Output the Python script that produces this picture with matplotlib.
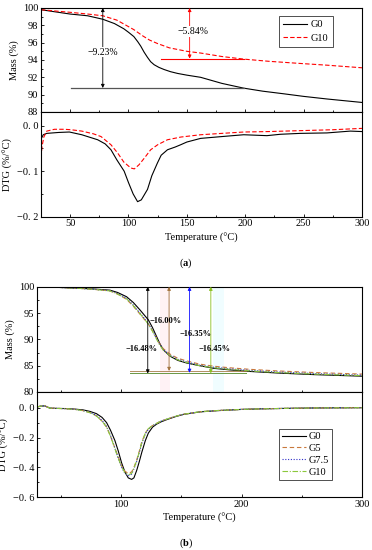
import matplotlib
matplotlib.use("Agg")
import matplotlib.pyplot as plt
from matplotlib.ticker import MultipleLocator, FixedLocator, FixedFormatter

plt.rcParams['font.family'] = ['Liberation Serif', 'DejaVu Serif']
plt.rcParams['mathtext.fontset'] = 'custom'
plt.rcParams['mathtext.rm'] = 'Liberation Serif'
plt.rcParams['mathtext.bf'] = 'Liberation Serif:bold'
plt.rcParams['font.size'] = 7.5

# ---------------- Panel (a) data ----------------
a_g0_mass_T = [25, 40, 50, 65, 78, 88, 96, 100, 104.6, 108, 110.5, 113.4, 116.3, 119, 122, 126, 130.5, 136, 142, 150, 161.8, 180, 198.7, 215, 232.9, 250, 270, 300]
a_g0_mass = [99.8, 99.5, 99.3, 99.1, 98.7, 98.2, 97.6, 97.2, 96.7, 96.1, 95.6, 94.9, 94.3, 93.8, 93.45, 93.15, 92.9, 92.65, 92.45, 92.25, 92.0, 91.3, 90.75, 90.4, 90.1, 89.8, 89.5, 89.1]
a_g10_mass_T = [25, 50, 65, 78, 90, 98, 104.6, 112, 118, 124.8, 135, 150, 161.8, 180, 198.7, 220, 247, 270, 300]
a_g10_mass = [99.8, 99.5, 99.3, 99.1, 98.6, 98.0, 97.5, 96.8, 96.3, 95.9, 95.4, 95.0, 94.8, 94.4, 94.1, 93.85, 93.6, 93.4, 93.1]

a_g0_dtg_T = [25, 27, 30, 40, 49.4, 60, 73.6, 80, 85, 90, 96.3, 100, 104, 107.8, 111, 116.3, 120, 124.8, 128, 133.4, 140, 144.7, 150, 161.8, 180, 198.7, 218.6, 230, 247, 270, 290, 300]
a_g0_dtg = [-0.03, -0.02, -0.017, -0.015, -0.014, -0.02, -0.031, -0.04, -0.053, -0.075, -0.1, -0.125, -0.15, -0.167, -0.163, -0.14, -0.11, -0.082, -0.065, -0.053, -0.047, -0.042, -0.036, -0.028, -0.024, -0.02, -0.022, -0.019, -0.017, -0.016, -0.012, -0.013]
a_g10_dtg_T = [25, 26, 27.5, 30, 36.6, 45, 50.9, 60, 70, 76.5, 85, 90.7, 96, 102, 105, 109, 114, 119, 125, 133.4, 145, 161.8, 180, 198.7, 220, 247, 275, 300]
a_g10_dtg = [-0.07, -0.045, -0.025, -0.012, -0.008, -0.008, -0.009, -0.012, -0.018, -0.024, -0.042, -0.06, -0.08, -0.093, -0.095, -0.086, -0.07, -0.053, -0.042, -0.031, -0.025, -0.02, -0.017, -0.014, -0.013, -0.011, -0.009, -0.006]

a_loss_g0 = 9.23
a_loss_g10 = 5.84

# ---------------- Panel (b) data ----------------
b_mass_T = [30, 45, 60, 75, 90.6, 97, 104.4, 110, 115.5, 122.5, 126, 129.4, 132, 135, 140.5, 147, 154.4, 165, 176.7, 190, 207, 230, 260, 300]
b_g0_mass = [100, 99.9, 99.75, 99.6, 99.35, 98.9, 98.1, 97.0, 95.6, 93.7, 92.2, 90.5, 89.2, 88.0, 86.8, 86.0, 85.5, 85.0, 84.5, 84.2, 83.9, 83.6, 83.3, 83.0]
b_g5_mass = [100, 99.9, 99.75, 99.55, 99.2, 98.6, 97.6, 96.3, 94.8, 92.9, 91.6, 90.2, 89.1, 88.2, 87.2, 86.4, 85.9, 85.3, 84.9, 84.6, 84.3, 84.0, 83.7, 83.4]
b_g75_mass = [100, 99.9, 99.75, 99.55, 99.25, 98.7, 97.8, 96.5, 95.0, 93.0, 91.6, 90.1, 89.0, 88.0, 87.0, 86.2, 85.7, 85.1, 84.7, 84.4, 84.1, 83.8, 83.5, 83.2]
b_g10_mass = [100, 99.9, 99.75, 99.55, 99.2, 98.6, 97.7, 96.4, 94.9, 92.9, 91.5, 90.0, 88.9, 87.9, 86.9, 86.1, 85.6, 85.0, 84.6, 84.3, 84.0, 83.7, 83.4, 83.1]

b_dtg_T = [30, 33, 36.4, 40.6, 47, 54.4, 62, 68.3, 74, 79.4, 84, 87.8, 91, 94.7, 97.5, 100.3, 103, 105.8, 108.6, 110.5, 112.8, 115, 117, 120, 122.5, 126, 129.4, 133, 137.8, 145, 151.7, 165.6, 180, 198.9, 215, 235, 260, 300]
b_g0_dtg = [0.005, 0.01, 0.012, -0.003, -0.005, -0.006, -0.01, -0.015, -0.025, -0.04, -0.065, -0.1, -0.15, -0.22, -0.29, -0.37, -0.43, -0.47, -0.48, -0.47, -0.42, -0.36, -0.30, -0.22, -0.17, -0.13, -0.11, -0.095, -0.08, -0.06, -0.045, -0.028, -0.02, -0.012, -0.008, -0.005, -0.002, 0.0]
b_g5_dtg = [0.005, 0.01, 0.012, -0.003, -0.005, -0.007, -0.012, -0.02, -0.033, -0.055, -0.09, -0.13, -0.19, -0.27, -0.33, -0.39, -0.425, -0.44, -0.43, -0.40, -0.35, -0.29, -0.23, -0.17, -0.14, -0.12, -0.105, -0.09, -0.077, -0.058, -0.044, -0.027, -0.019, -0.012, -0.008, -0.005, -0.002, 0.0]
b_g75_dtg = [0.005, 0.01, 0.012, -0.003, -0.005, -0.007, -0.012, -0.02, -0.032, -0.052, -0.085, -0.125, -0.185, -0.27, -0.34, -0.40, -0.44, -0.455, -0.445, -0.41, -0.36, -0.30, -0.24, -0.175, -0.145, -0.12, -0.105, -0.09, -0.077, -0.058, -0.044, -0.027, -0.019, -0.012, -0.008, -0.005, -0.002, 0.0]
b_g10_dtg = [0.005, 0.01, 0.012, -0.003, -0.005, -0.007, -0.012, -0.02, -0.034, -0.056, -0.09, -0.13, -0.19, -0.275, -0.34, -0.395, -0.435, -0.45, -0.44, -0.405, -0.355, -0.295, -0.235, -0.17, -0.14, -0.12, -0.105, -0.09, -0.077, -0.058, -0.044, -0.027, -0.019, -0.012, -0.008, -0.005, -0.002, 0.0]

b_labels = ['G0', 'G5', 'G7.5', 'G10']
b_losses = [16.48, 16.00, 16.35, 16.45]
b_arrow_T = [122, 139.7, 156.7, 174.4]
b_colors = ['black', '#a0703a', '#1010ff', '#88c020']
b_curve_colors = ['black', '#c8783c', '#3030c8', '#8cc83c']

dtg_a_ticks = [-0.2, -0.1, 0.0]
dtg_a_labels = ['\u22120. 2', '\u22120. 1', '0. 0']
dtg_b_ticks = [-0.6, -0.4, -0.2, 0.0]
dtg_b_labels = ['\u22120. 6', '\u22120. 4', '\u22120. 2', '0. 0']

fig = plt.figure(figsize=(3.72, 5.5), dpi=100)

def style(ax):
    ax.tick_params(direction='in', which='both', length=2.5, width=0.6, pad=2)
    ax.tick_params(which='minor', length=1.5)
    for s in ax.spines.values():
        s.set_linewidth(0.8)

# ---------- (a) ----------
axm = fig.add_axes([0.110, 0.7964, 0.863, 0.1891])
axd = fig.add_axes([0.110, 0.606, 0.863, 0.1904], sharex=axm)
axm.plot(a_g0_mass_T, a_g0_mass, color='black', lw=0.8, label='G0')
axm.plot(a_g10_mass_T, a_g10_mass, color='red', lw=0.8, ls=(0, (4, 2)), label='G10')
axm.set_xlim(25, 300)
axm.set_ylim(88, 100)
axm.yaxis.set_major_locator(MultipleLocator(2))
axm.yaxis.set_minor_locator(MultipleLocator(1))
axm.xaxis.set_major_locator(MultipleLocator(50))
axm.xaxis.set_minor_locator(MultipleLocator(25))
axm.tick_params(labelbottom=False)
axm.set_ylabel('Mass (%)', labelpad=3)
style(axm)
leg = axm.legend(loc='upper right', bbox_to_anchor=(0.925, 0.975), frameon=True, fancybox=False,
                 edgecolor='black', handlelength=2.3, handletextpad=0.4, fontsize=7.5,
                 borderpad=0.4, labelspacing=0.4)
leg.get_frame().set_linewidth(0.6)

lvl0 = 100 - a_loss_g0
axm.plot([51, 198.7], [lvl0, lvl0], color='#555555', lw=0.9)
axm.annotate('', xy=(78, lvl0), xytext=(78, 100), arrowprops=dict(arrowstyle='<|-|>', color='black', lw=0.6, mutation_scale=5, shrinkA=0, shrinkB=0))
axm.text(78, 94.9, '\u2212%.2f%%' % a_loss_g0, ha='center', va='center', fontsize=7,
         bbox=dict(facecolor='white', edgecolor='none', pad=0.5))
lvl10 = 100 - a_loss_g10
axm.plot([127.6, 198.7], [lvl10, lvl10], color='red', lw=0.8)
axm.annotate('', xy=(152.4, lvl10), xytext=(152.4, 100), arrowprops=dict(arrowstyle='<|-|>', color='red', lw=0.6, mutation_scale=5, shrinkA=0, shrinkB=0))
axm.text(155, 97.3, '\u2212%.2f%%' % a_loss_g10, ha='center', va='center', fontsize=7,
         bbox=dict(facecolor='white', edgecolor='none', pad=0.5))

axd.plot(a_g0_dtg_T, a_g0_dtg, color='black', lw=0.8)
axd.plot(a_g10_dtg_T, a_g10_dtg, color='red', lw=0.8, ls=(0, (4, 2)))
axd.set_ylim(-0.2, 0.03)
axd.yaxis.set_major_locator(FixedLocator(dtg_a_ticks))
axd.yaxis.set_major_formatter(FixedFormatter(dtg_a_labels))
axd.yaxis.set_minor_locator(FixedLocator([-0.15, -0.05]))
axd.set_ylabel('DTG (%/\u00b0C)', labelpad=3)
axd.set_xlabel('Temperature (\u00b0C)', labelpad=3)
style(axd)
fig.text(0.5, 1 - 263 / 550, r'($\mathbf{a}$)', ha='center', va='center', fontsize=7.5)

# ---------- (b) ----------
bxm = fig.add_axes([0.0995, 0.2873, 0.8737, 0.1914])
bxd = fig.add_axes([0.0995, 0.0958, 0.8737, 0.1915], sharex=bxm)
b_mass = [b_g0_mass, b_g5_mass, b_g75_mass, b_g10_mass]
b_dtg = [b_g0_dtg, b_g5_dtg, b_g75_dtg, b_g10_dtg]
b_styles = ['-', (0, (4, 2.5)), (0, (1, 1.5)), (0, (5, 1.5, 1, 1.5))]

# faint bands
bxm.axvspan(132.5, 140.5, color='#fff2f5', lw=0)
bxm.axvspan(176.5, 185, color='#f0fdff', lw=0)

for m, c, s, lab in zip(b_mass, b_curve_colors, b_styles, b_labels):
    bxm.plot(b_mass_T, m, color=c, lw=0.8, ls=s, label=lab)
for t, loss, c in zip(b_arrow_T, b_losses, b_colors):
    lvl = 100 - loss
    bxm.plot([107, 204], [lvl, lvl], color=c, lw=0.7, alpha=0.8)
    bxm.annotate('', xy=(t, lvl), xytext=(t, 100), arrowprops=dict(arrowstyle='<|-|>', color=c, lw=0.6, mutation_scale=5, shrinkA=0, shrinkB=0))
b_text_pos = [(117, 88.2), (137, 93.5), (161.4, 91.0), (177.5, 88.2)]
for (tx, ty), loss in zip(b_text_pos, b_losses):
    bxm.text(tx, ty, '\u2212%.2f%%' % loss, ha='center', va='center', fontsize=6, fontweight='bold')
bxm.set_xlim(30, 300)
bxm.set_ylim(80, 100)
bxm.yaxis.set_major_locator(MultipleLocator(5))
bxm.yaxis.set_minor_locator(MultipleLocator(2.5))
bxm.xaxis.set_major_locator(MultipleLocator(100))
bxm.xaxis.set_minor_locator(MultipleLocator(50))
bxm.tick_params(labelbottom=False)
bxm.set_ylabel('Mass (%)', labelpad=3)
style(bxm)

for d, c, s, lab in zip(b_dtg, b_curve_colors, b_styles, b_labels):
    bxd.plot(b_dtg_T, d, color=c, lw=0.8, ls=s, label=lab)
bxd.set_ylim(-0.6, 0.105)
bxd.yaxis.set_major_locator(FixedLocator(dtg_b_ticks))
bxd.yaxis.set_major_formatter(FixedFormatter(dtg_b_labels))
bxd.yaxis.set_minor_locator(FixedLocator([-0.5, -0.3, -0.1]))
bxd.set_ylabel('DTG (%/\u00b0C)', labelpad=3)
bxd.set_xlabel('Temperature (\u00b0C)', labelpad=3)
style(bxd)
leg2 = bxd.legend(loc='lower right', bbox_to_anchor=(0.925, 0.115), frameon=True, fancybox=False,
                  edgecolor='black', handlelength=2.3, handletextpad=0.3, fontsize=7.5,
                  borderpad=0.3, labelspacing=0.25)
leg2.get_frame().set_linewidth(0.6)
fig.text(0.5, 1 - 543 / 550, r'($\mathbf{b}$)', ha='center', va='center', fontsize=7.5)

fig.savefig('out.png', dpi=100)
